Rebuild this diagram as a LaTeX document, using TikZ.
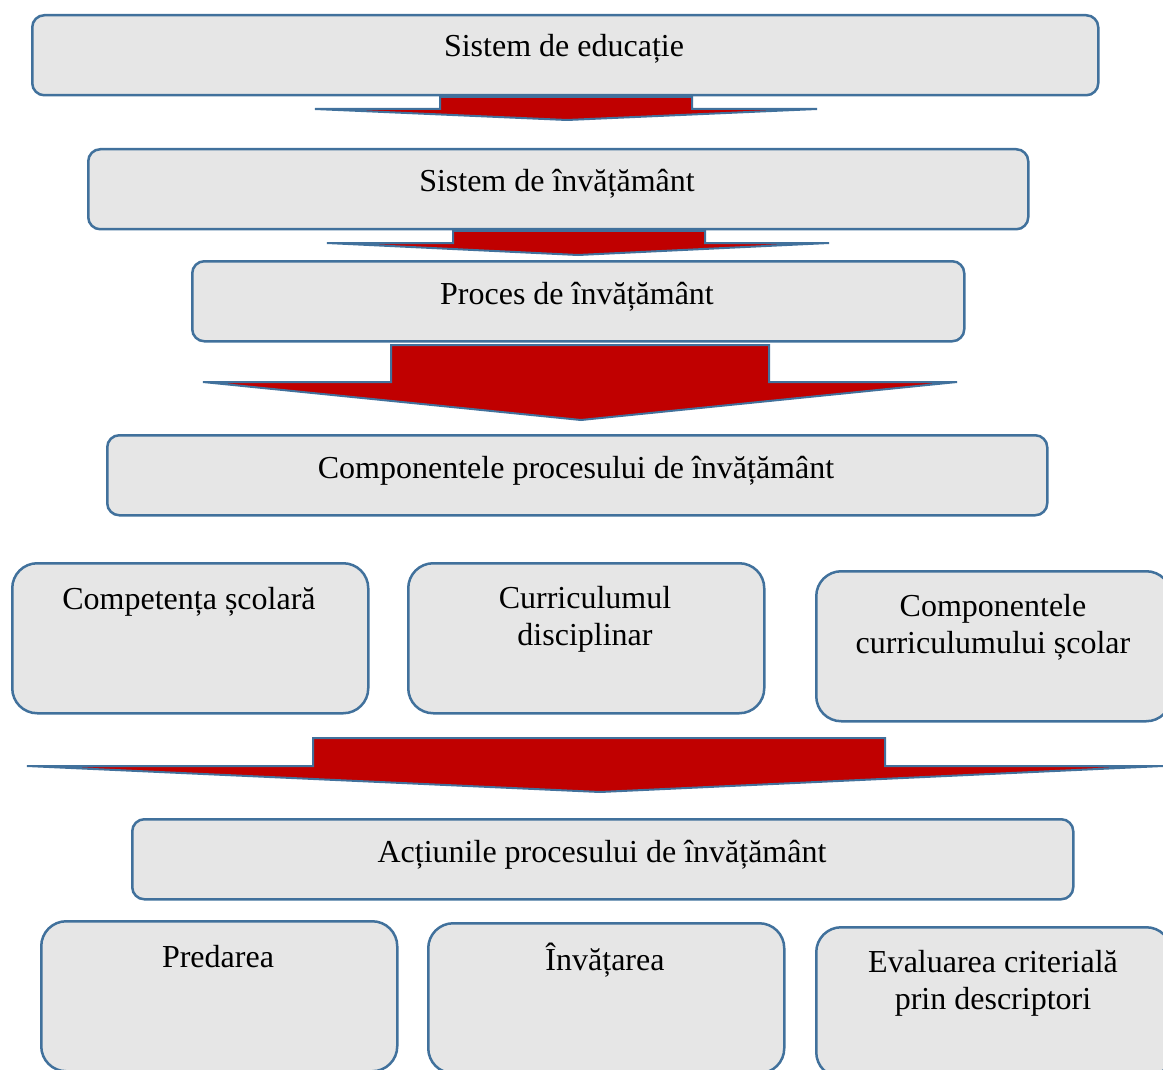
\documentclass[tikz,border=0pt]{standalone}
\usepackage{fontspec}
\setmainfont{Liberation Serif}
\definecolor{boxfill}{HTML}{E6E6E6}
\definecolor{boxline}{HTML}{41719C}
\definecolor{arrred}{HTML}{C00000}
\begin{document}
\begin{tikzpicture}[x=1pt,y=-1pt,
  widebox/.style={draw=boxline,fill=boxfill,line width=2.5pt,rounded corners=12pt,inner sep=0pt,anchor=north west},
  smallbox/.style={draw=boxline,fill=boxfill,line width=2.5pt,rounded corners=25pt,inner sep=0pt,anchor=north west},
  txt/.style={font=\fontsize{32}{37}\selectfont,align=center,anchor=base,inner sep=0pt},
  blockarrow/.style={draw=boxline,fill=arrred,line width=2pt,line join=miter}]
\useasboundingbox (0,0) rectangle (1163,1070);
% row boxes
\node[widebox,minimum width=1066pt,minimum height=80pt] (b1) at (31,14) {};
\node[txt] (t1) at (564,57) {Sistem de educație};
\node[widebox,minimum width=940pt,minimum height=80pt] (b2) at (87,148) {};
\node[txt] (t2) at (557,192) {Sistem de învățământ};
\node[widebox,minimum width=772pt,minimum height=80pt] (b3) at (191,260) {};
\node[txt] (t3) at (577,304) {Proces de învățământ};
\node[widebox,minimum width=940pt,minimum height=80pt] (b4) at (106,434) {};
\node[txt] (t4) at (576,478) {Componentele procesului de învățământ};
% three components
\node[smallbox,minimum width=356pt,minimum height=150pt] (c1) at (11,562) {};
\node[txt] (tc1) at (189,609) {Competența școlară};
\node[smallbox,minimum width=356pt,minimum height=150pt] (c2) at (407,562) {};
\node[txt] (tc2) at (585,645) {Curriculumul\\disciplinar};
\node[smallbox,minimum width=355pt,minimum height=150pt] (c3) at (815,570) {};
\node[txt] (tc3) at (993,653) {Componentele\\curriculumului școlar};
% actions
\node[widebox,minimum width=941pt,minimum height=80pt] (b5) at (131,818) {};
\node[txt] (t5) at (602,862) {Acțiunile procesului de învățământ};
\node[smallbox,minimum width=356pt,minimum height=150pt] (d1) at (40,920) {};
\node[txt] (td1) at (218,967) {Predarea};
\node[smallbox,minimum width=356pt,minimum height=150pt] (d2) at (427,922) {};
\node[txt] (td2) at (605,970) {Învățarea};
\node[smallbox,minimum width=355pt,minimum height=150pt] (d3) at (815,926) {};
\node[txt] (td3) at (993,1009) {Evaluarea criterială\\prin descriptori};
% block arrows
\draw[blockarrow] (440,97) -- (692,97) -- (692,109) -- (817,109) -- (567,120) -- (315,109) -- (440,109) -- cycle;
\draw[blockarrow] (453,231) -- (705,231) -- (705,243) -- (829,243) -- (578,255) -- (327,243) -- (453,243) -- cycle;
\draw[blockarrow] (391,345) -- (769,345) -- (769,382) -- (957,382) -- (581,420) -- (203,382) -- (391,382) -- cycle;
\draw[blockarrow] (313,738) -- (885,738) -- (885,766) -- (1163,766) -- (600,792) -- (27,766) -- (313,766) -- cycle;
\end{tikzpicture}
\end{document}
